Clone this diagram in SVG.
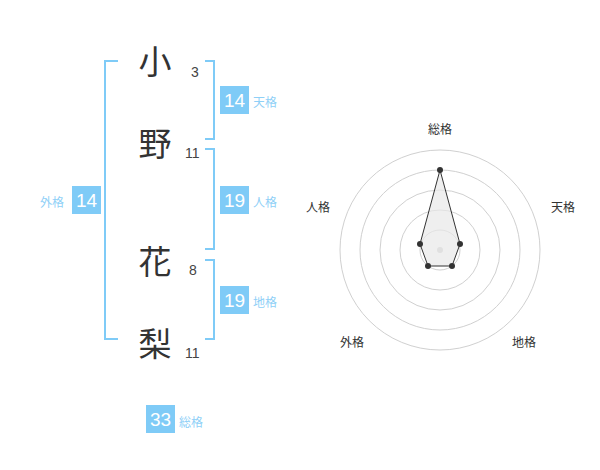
<svg xmlns="http://www.w3.org/2000/svg" width="600" height="470" viewBox="0 0 600 470">
<style>
.kanji{font-family:"Noto Sans CJK JP",sans-serif;font-size:33px;fill:#333;text-anchor:middle}
.stroke{font-family:"Liberation Sans",Arial,sans-serif;font-size:14px;fill:#444}
.br{fill:none;stroke:#7fcbf7;stroke-width:2}
.box{fill:#7fcbf7}
.num{font-family:"Liberation Sans",Arial,sans-serif;font-size:19px;fill:#fff;text-anchor:middle}
.lbl{font-family:"Noto Sans CJK JP",sans-serif;font-size:12px;fill:#8fd0f7}
.ring{fill:none;stroke:#d0d0d0;stroke-width:1}
.axis{font-family:"Noto Sans CJK JP",sans-serif;font-size:12px;fill:#333;text-anchor:middle}
.pt{fill:#333}
</style>
<rect width="600" height="470" fill="#fff"/>
<g id="brackets">
<path class="br" d="M118,61 H105 V339 H118"/>
<path class="br" d="M205,61 H214 V139 H205"/>
<path class="br" d="M205,149 H214 V249 H205"/>
<path class="br" d="M205,260 H214 V339 H205"/>
</g>
<g id="char1"><text class="kanji" x="155" y="74">小</text><text class="stroke" x="191" y="77">3</text></g>
<g id="char2"><text class="kanji" x="155" y="156">野</text><text class="stroke" x="185" y="158">11</text></g>
<g id="char3"><text class="kanji" x="155" y="274">花</text><text class="stroke" x="189" y="275">8</text></g>
<g id="char4"><text class="kanji" x="155" y="356">梨</text><text class="stroke" x="185" y="358">11</text></g>
<g id="tenkaku"><rect class="box" x="220" y="86" width="29" height="28"/><text class="num" x="234.5" y="107">14</text><text class="lbl" x="253" y="107">天格</text></g>
<g id="jinkaku"><rect class="box" x="220" y="186" width="29" height="28"/><text class="num" x="234.5" y="207">19</text><text class="lbl" x="253" y="207">人格</text></g>
<g id="gaikaku"><rect class="box" x="72" y="186" width="29" height="28"/><text class="num" x="86.5" y="207">14</text><text class="lbl" x="40" y="207">外格</text></g>
<g id="chikaku"><rect class="box" x="220" y="286" width="29" height="28"/><text class="num" x="234.5" y="307">19</text><text class="lbl" x="253" y="307">地格</text></g>
<g id="soukaku"><rect class="box" x="146" y="405" width="29" height="28"/><text class="num" x="160.5" y="426">33</text><text class="lbl" x="179" y="427">総格</text></g>
<g id="radar">
<circle class="ring" cx="440" cy="250" r="20"/>
<circle class="ring" cx="440" cy="250" r="40"/>
<circle class="ring" cx="440" cy="250" r="60"/>
<circle class="ring" cx="440" cy="250" r="80"/>
<circle class="ring" cx="440" cy="250" r="100"/>
<circle cx="440" cy="250" r="3" fill="#ccc"/>
<polygon points="440,170 460,244 452,266 428,266 420,244" fill="#e8e8e8" fill-opacity="0.7" stroke="#333" stroke-width="1"/>
<circle class="pt" cx="440" cy="170" r="3"/>
<circle class="pt" cx="460" cy="244" r="3"/>
<circle class="pt" cx="452" cy="266" r="3"/>
<circle class="pt" cx="428" cy="266" r="3"/>
<circle class="pt" cx="420" cy="244" r="3"/>
<text class="axis" x="440" y="134">総格</text>
<text class="axis" x="563" y="212">天格</text>
<text class="axis" x="318" y="212">人格</text>
<text class="axis" x="352" y="347">外格</text>
<text class="axis" x="524" y="347">地格</text>
</g>
</svg>
